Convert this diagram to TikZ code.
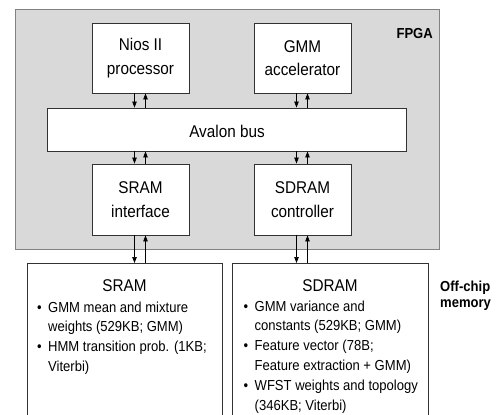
\documentclass[tikz,border=0pt]{standalone}
\usepackage{fontspec}
\setmainfont[FakeStretch=0.9]{Liberation Sans}
\usetikzlibrary{arrows.meta}
\definecolor{fpgafill}{RGB}{217,217,217}
\definecolor{fpgaedge}{RGB}{130,130,130}
\definecolor{boxedge}{RGB}{50,50,50}
\tikzset{
  blockbox/.style={draw=boxedge, line width=0.9pt, fill=white, minimum width=97pt, minimum height=70pt, inner sep=0pt, align=center, font=\fontsize{17}{23.5}\selectfont},
  membox/.style={draw=boxedge, line width=0.9pt, fill=white, minimum width=195pt, minimum height=175pt, inner sep=0pt, anchor=north west},
  conn/.style={draw=black, line width=0.7pt, -{Triangle[length=6pt,width=4.5pt]}},
  bullets/.style={anchor=base west, inner sep=0pt, align=left, font=\fontsize{14.5}{19.8}\selectfont},
  memtitle/.style={anchor=base, inner sep=0pt, font=\fontsize{17}{20}\selectfont},
  boldlabel/.style={inner sep=0pt, font=\bfseries\fontsize{14.5}{16}\selectfont, align=left}
}
\newcommand{\bul}{\makebox[11pt][l]{•}}
\newcommand{\ind}{\hspace*{11pt}}
\begin{document}
\begin{tikzpicture}[x=1pt,y=-1pt]
\useasboundingbox (0,0) rectangle (498,415);
\clip (0,0) rectangle (498,415);
% FPGA region
\node[draw=fpgaedge, fill=fpgafill, line width=0.9pt, minimum width=424pt, minimum height=240pt, inner sep=0pt] (fpga) at (227,129) {};
\node[boldlabel, anchor=base east] (fpgalabel) at (433,38) {FPGA};
% blocks
\node[blockbox] (nios) at (140.5,58) {Nios II\\processor};
\node[blockbox] (gmm) at (302.5,58) {GMM\\accelerator};
\node[blockbox, minimum width=359pt, minimum height=43pt] (bus) at (226.5,129.5) {};
\node[anchor=base, inner sep=0pt, font=\fontsize{17}{20}\selectfont] (buslabel) at (227,137) {Avalon bus};
\node[blockbox, minimum height=71pt] (sramif) at (140.5,199.5) {SRAM\\interface};
\node[blockbox, minimum height=71pt] (sdramctl) at (302.5,199.5) {SDRAM\\controller};
% off-chip memories
\node[membox] (sram) at (27,263) {};
\node[membox, minimum width=196pt] (sdram) at (232,263) {};
\node[memtitle] (sramtitle) at (124.5,291) {SRAM};
\node[memtitle] (sdramtitle) at (330,291) {SDRAM};
% base anchor of a multi-line node is the last line's baseline
\node[bullets] (sramlist) at (37,371.4) {\bul GMM mean and mixture\\\ind weights (529KB; GMM)\\\bul HMM transition prob. (1KB;\\\ind Viterbi)};
\node[bullets] (sdramlist) at (243.5,410) {\bul GMM variance and\\\ind constants (529KB; GMM)\\\bul Feature vector (78B;\\\ind Feature extraction + GMM)\\\bul WFST weights and topology\\\ind (346KB; Viterbi)};
\node[boldlabel, anchor=base west] (offchip) at (440,307) {Off-chip\\memory};
% connectors
\draw[conn] ([xshift=-6pt]nios.south) -- ([xshift=-6pt]nios.south |- bus.north);
\draw[conn] ([xshift=5pt]nios.south |- bus.north) -- ([xshift=5pt]nios.south);
\draw[conn] ([xshift=-6pt]gmm.south) -- ([xshift=-6pt]gmm.south |- bus.north);
\draw[conn] ([xshift=5pt]gmm.south |- bus.north) -- ([xshift=5pt]gmm.south);
\draw[conn] ([xshift=-6pt]sramif.north |- bus.south) -- ([xshift=-6pt]sramif.north);
\draw[conn] ([xshift=5pt]sramif.north) -- ([xshift=5pt]sramif.north |- bus.south);
\draw[conn] ([xshift=-6pt]sdramctl.north |- bus.south) -- ([xshift=-6pt]sdramctl.north);
\draw[conn] ([xshift=5pt]sdramctl.north) -- ([xshift=5pt]sdramctl.north |- bus.south);
\draw[conn] ([xshift=-6pt]sramif.south) -- ([xshift=-6pt]sramif.south |- sram.north);
\draw[conn] ([xshift=5pt]sramif.south |- sram.north) -- ([xshift=5pt]sramif.south);
\draw[conn] ([xshift=-6pt]sdramctl.south) -- ([xshift=-6pt]sdramctl.south |- sdram.north);
\draw[conn] ([xshift=5pt]sdramctl.south |- sdram.north) -- ([xshift=5pt]sdramctl.south);
\end{tikzpicture}
\end{document}
